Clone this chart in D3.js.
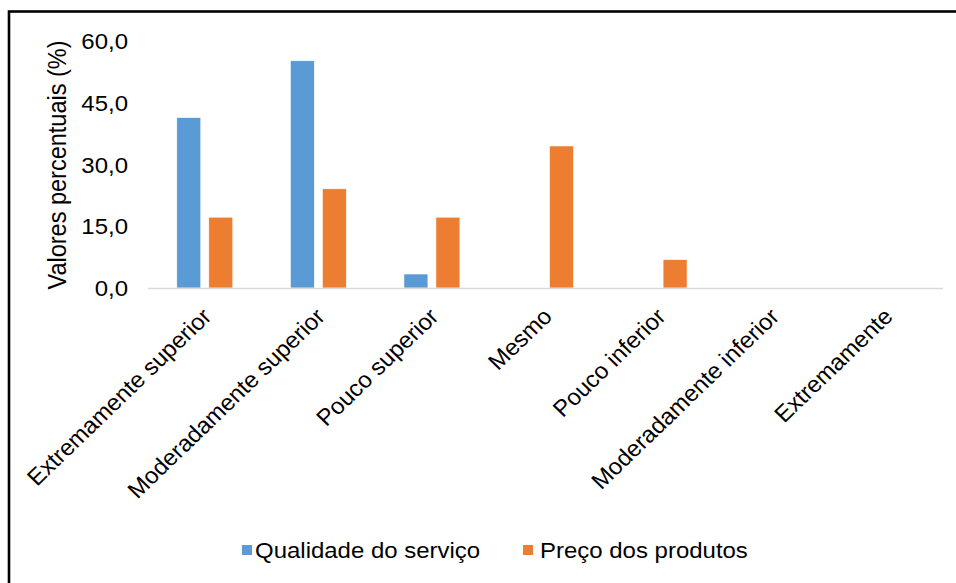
<!DOCTYPE html>
<html>
<head>
<meta charset="utf-8">
<script src="https://cdn.jsdelivr.net/npm/d3@7/dist/d3.min.js"></script>
<style>
  body { margin: 0; background: #fff; }
  text { font-family: "Liberation Sans", Arial, sans-serif; fill: #000; }
</style>
</head>
<body>
<svg id="chart"></svg>
<script>
// dados
const categorias = ['Extremamente superior', 'Moderadamente superior', 'Pouco superior', 'Mesmo', 'Pouco inferior', 'Moderadamente inferior', 'Extremamente']
const series = ['Qualidade do serviço', 'Preço dos produtos']
const qualidade = [41.4, 55.2, 3.4, 0, 0, 0, 0]
const preco = [17.2, 24.1, 17.2, 34.5, 6.9, 0, 0]
const yTicks = [0, 15, 30, 45, 60]
const cores = ['#5B9BD5', '#ED7D31']

const width = 956
const height = 583
const plot = { left: 148, right: 943, top: 41, bottom: 288 }
const sx = 1.09 // texto um pouco esticado na horizontal

const svg = d3.select('#chart').attr('width', width).attr('height', height)

// moldura
svg.append('rect')
  .attr('x', 9).attr('y', 11.5)
  .attr('width', 1000).attr('height', 700)
  .attr('fill', 'none').attr('stroke', '#000').attr('stroke-width', 2.6)

const x0 = d3.scaleBand().domain(categorias).range([plot.left, plot.right]).padding(0)
const groupW = 56
const x1 = d3.scaleBand().domain(series).range([0, groupW]).paddingInner(0.25)
const y = d3.scaleLinear().domain([0, 60]).range([plot.bottom, plot.top])

// eixo Y
const yAxisG = svg.append('g').attr('transform', `translate(${plot.left},0)`)
  .call(d3.axisLeft(y).tickValues(yTicks).tickSize(0).tickFormat(d => d3.format('.1f')(d).replace('.', ',')))
yAxisG.select('.domain').remove()
yAxisG.selectAll('text')
  .attr('x', 0).attr('dy', '0.35em')
  .attr('transform', `translate(-20,0) scale(${sx},1)`)
  .attr('text-anchor', 'end')
  .style('font-size', '22px')
  .style('font-family', '"Liberation Sans", Arial, sans-serif')
  .attr('fill', '#000')

// título do eixo Y
svg.append('text')
  .attr('transform', `translate(66,165) scale(${sx},1) rotate(-90)`)
  .attr('text-anchor', 'middle')
  .style('font-size', '23.5px')
  .text('Valores percentuais (%)')

// barras
const rows = categorias.map((c, i) => ({ cat: c, values: [qualidade[i], preco[i]] }))
const groups = svg.append('g').selectAll('g').data(rows).enter().append('g')
  .attr('transform', d => `translate(${x0(d.cat) + (x0.bandwidth() - groupW) / 2},0)`)
groups.selectAll('rect')
  .data(d => d.values.map((v, j) => ({ s: series[j], v: v, j: j })).filter(e => e.v > 0))
  .enter().append('rect')
  .attr('x', d => x1(d.s))
  .attr('width', x1.bandwidth())
  .attr('y', d => y(d.v))
  .attr('height', d => y(0) - y(d.v))
  .attr('fill', d => cores[d.j])
  .attr('stroke', '#fff')
  .attr('stroke-width', 0.6)

// linha base
svg.append('line')
  .attr('x1', plot.left).attr('x2', plot.right)
  .attr('y1', y(0) + 0.5).attr('y2', y(0) + 0.5)
  .attr('stroke', '#d9d9d9').attr('stroke-width', 1.6)

// rótulos das categorias
svg.append('g').selectAll('text').data(categorias).enter().append('text')
  .attr('transform', d => `translate(${x0(d) + x0.bandwidth() / 2 + 8},318) scale(1.04,1) rotate(-45)`)
  .attr('text-anchor', 'end')
  .style('font-size', '23px')
  .text(d => d)

// legenda
const legendX = [242, 523]
const legend = svg.append('g').selectAll('g').data(series).enter().append('g')
  .attr('transform', (d, i) => `translate(${legendX[i]},0)`)
legend.append('rect')
  .attr('x', 0).attr('y', 545).attr('width', 10).attr('height', 10)
  .attr('fill', (d, i) => cores[i])
legend.append('text')
  .attr('transform', (d, i) => `translate(${i === 0 ? 13 : 17},558) scale(${sx},1)`)
  .style('font-size', '22px')
  .text(d => d)
</script>
</body>
</html>
